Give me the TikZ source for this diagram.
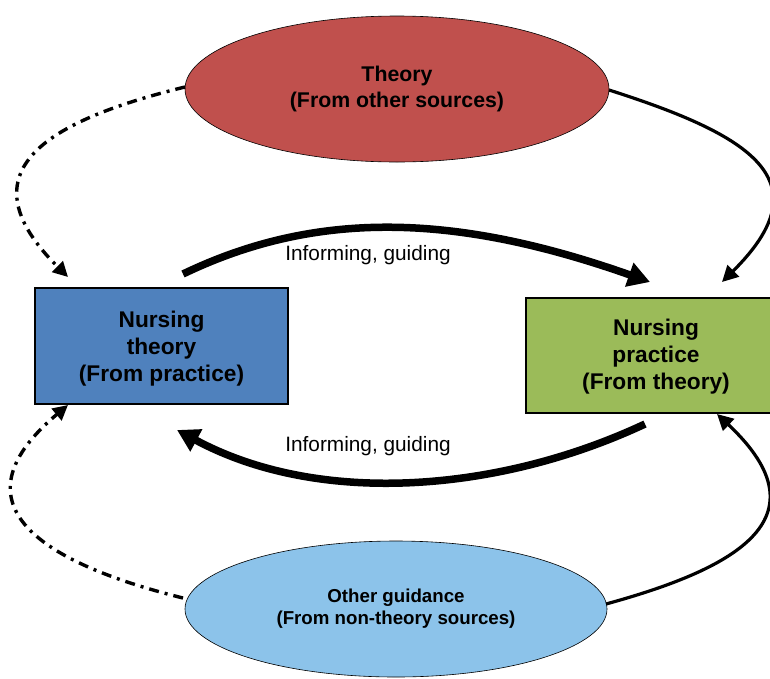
\documentclass[tikz,border=0pt]{standalone}
\usepackage{fontspec}
\setmainfont{Liberation Sans}
\usetikzlibrary{arrows.meta,shapes.geometric}
\definecolor{redfill}{HTML}{C0504D}
\definecolor{bluefill}{HTML}{4F81BD}
\definecolor{greenfill}{HTML}{9BBB59}
\definecolor{lightblue}{HTML}{8CC3EA}
\tikzset{
  ell/.style={ellipse, draw=black, line width=0.6pt, font=\bfseries, align=center},
  boxnode/.style={rectangle, draw=black, line width=1.4pt, minimum width=253pt, minimum height=116pt},
  boxtext/.style={font=\bfseries\fontsize{22.7}{27}\selectfont, align=center},
  dashdot/.style={line width=3.4pt, dash pattern=on 10pt off 6pt on 3pt off 6pt, -{Triangle[length=15pt,width=15pt]}},
  thinarr/.style={line width=3.2pt, -{Triangle[length=16pt,width=16pt]}},
  thickarr/.style={line width=7.5pt, -{Triangle[length=22pt,width=24pt]}},
  lbl/.style={font=\fontsize{20.8}{24}\selectfont}
}
\begin{document}
\begin{tikzpicture}[x=1pt,y=-1pt]
\useasboundingbox (0,0) rectangle (770,678);
\clip (0,0) rectangle (770,678);
\node[ell, fill=redfill, minimum width=424pt, minimum height=146pt, font=\bfseries\fontsize{21.3}{26}\selectfont] (th) at (397,89) {Theory\\(From other sources)};
\node[ell, fill=lightblue, minimum width=422pt, minimum height=136pt, font=\bfseries\fontsize{18.7}{22}\selectfont] (og) at (396,609) {Other guidance\\(From non-theory sources)};
\node[boxnode, fill=bluefill] (nt) at (161.5,346) {};
\node[boxtext] (ntt) at (161.5,349) {Nursing\\theory\\(From practice)};
\node[boxnode, fill=greenfill, minimum width=260pt, minimum height=115pt] (np) at (656,355.5) {};
\node[boxtext] (npt) at (656,357) {Nursing\\practice\\(From theory)};
\node[lbl] (l1) at (368,255) {Informing, guiding};
\node[lbl] (l2) at (368,446) {Informing, guiding};
\coordinate (a1s) at (185,87);
\coordinate (a1e) at (68,277);
\coordinate (a2s) at (183,274);
\coordinate (a2e) at (650,282);
\coordinate (a3s) at (645,424);
\coordinate (a3e) at (177,430);
\coordinate (a4s) at (609,90);
\coordinate (a4e) at (722,282);
\coordinate (a5s) at (606,604);
\coordinate (a5e) at (717,414);
\coordinate (a6s) at (183,598);
\coordinate (a6e) at (68,405);
\draw[dashdot] (a1s) .. controls (50,120) and (-40,170) .. (a1e);
\draw[dashdot] (a6s) .. controls (30,560) and (-45,500) .. (a6e);
\draw[thinarr] (a4s) .. controls (750,135) and (825,180) .. (a4e);
\draw[thinarr] (a5s) .. controls (730,570) and (830,520) .. (a5e);
\draw[thickarr] (a2s) .. controls (320,208) and (460,215) .. (a2e);
\draw[thickarr] (a3s) .. controls (500,492) and (320,507) .. (a3e);
\end{tikzpicture}
\end{document}
